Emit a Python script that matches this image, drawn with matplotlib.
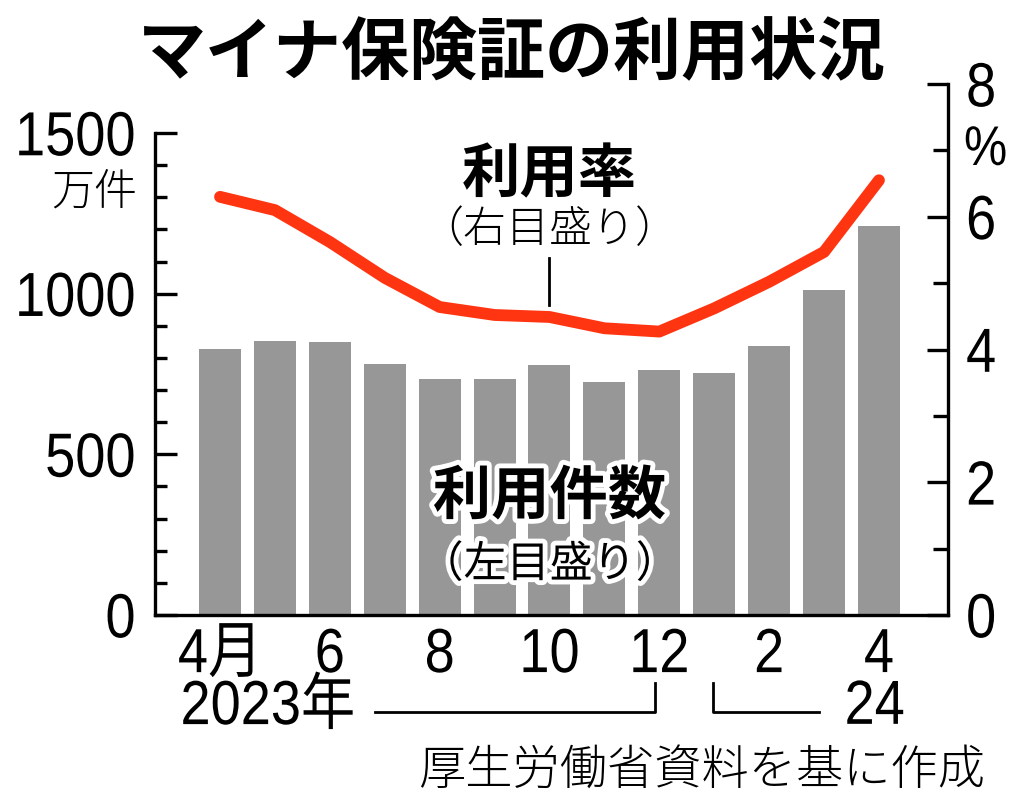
import numpy as np
import matplotlib
matplotlib.use("Agg")
import matplotlib.pyplot as plt
import matplotlib.patheffects as pe
from matplotlib.lines import Line2D
from matplotlib.ticker import FixedLocator
from matplotlib.transforms import Affine2D
from matplotlib import font_manager

# data (Apr 2023 .. Apr 2024)
months = ["4月", "5", "6", "7", "8", "9", "10", "11", "12", "1", "2", "3", "4"]
counts = [828, 853, 850, 781, 735, 735, 778, 725, 763, 753, 837, 1012, 1211]  # 万件
rate = [6.30, 6.10, 5.62, 5.08, 4.64, 4.52, 4.49, 4.32, 4.27, 4.62, 5.02, 5.47, 6.55]  # %
tick_pos = [0, 2, 4, 6, 8, 10, 12]
tick_labels = ["4月", "6", "8", "10", "12", "2", "4"]
left_ticks = [0, 500, 1000, 1500]
right_ticks = [0, 2, 4, 6, 8]

installed = {f.name for f in font_manager.fontManager.ttflist}
narrow = "Liberation Sans Narrow" if "Liberation Sans Narrow" in installed else "Liberation Sans"
NUM = [narrow, "Noto Sans CJK JP"]
JP = ["Noto Sans CJK JP", "DejaVu Sans"]
# the reference digits are tall and narrow: use a smaller size, stretched upward
SY = 1.0 if narrow == "Liberation Sans Narrow" else 1.15
FS = 45 if SY == 1.0 else 39

plt.rcParams["font.family"] = JP


class Tall(pe.AbstractPathEffect):
    # stretch glyphs vertically around the middle of their ink
    def __init__(self, sy):
        super().__init__()
        self.sy = sy

    def draw_path(self, renderer, gc, tpath, affine, rgbFace=None):
        v = tpath.vertices
        mid = 0.5 * (v[:, 1].min() + v[:, 1].max()) if len(v) else 0
        t = Affine2D().translate(0, -mid).scale(1, self.sy).translate(0, mid)
        renderer.draw_path(gc, tpath, t + affine, rgbFace)


TALL = [Tall(SY)]
BAR = "#979797"
RED = "#ff3512"
LW = 2.4

fig = plt.figure(figsize=(10.24, 8.07), dpi=100)
ax = fig.add_axes([155 / 1024, 1 - 615 / 807, (948 - 155) / 1024, (615 - 84) / 807])
ax2 = ax.twinx()

x = np.arange(len(counts))
ax.bar(x, counts, width=0.765, color=BAR, zorder=1)
ax2.plot(x, rate, color=RED, lw=8.5, solid_capstyle="round", solid_joinstyle="round", zorder=3)

ax.set_xlim(-1.184, 13.257)
ax.set_ylim(0, 1500 * 531 / 482)
ax2.set_ylim(0, 8)

# spines
for a in (ax, ax2):
    a.spines["top"].set_visible(False)
    for s in ("left", "right", "bottom"):
        a.spines[s].set_linewidth(LW)
ax.spines["left"].set_bounds(0, 1500)
ax.spines["right"].set_visible(False)
ax2.spines["left"].set_visible(False)
ax2.spines["bottom"].set_visible(False)

# left axis ticks
ax.set_yticks(left_ticks)
ax.yaxis.set_minor_locator(FixedLocator([v for v in range(100, 1500, 100) if v % 500]))
ax.tick_params(axis="y", which="major", direction="in", length=16, width=LW, pad=14)
ax.tick_params(axis="y", which="minor", direction="in", length=8.5, width=LW)
for lab in ax.get_yticklabels():
    lab.set_fontfamily(NUM)
    lab.set_fontsize(FS)
    lab.set_path_effects(TALL)

# right axis ticks
ax2.set_yticks(right_ticks)
ax2.yaxis.set_minor_locator(FixedLocator([1, 3, 5, 7]))
ax2.tick_params(axis="y", which="major", direction="in", length=15, width=LW, pad=13)
ax2.tick_params(axis="y", which="minor", direction="in", length=11, width=LW)
for lab in ax2.get_yticklabels():
    lab.set_fontfamily(NUM)
    lab.set_fontsize(FS)
    lab.set_path_effects(TALL)

# x axis
ax.set_xticks(tick_pos)
ax.set_xticklabels(tick_labels, fontfamily=NUM, fontsize=FS)
ax.tick_params(axis="x", length=0, pad=11)
for lab in ax.get_xticklabels():
    lab.set_path_effects(TALL)

# unit labels
fig.text(137 / 1024, 1 - 192 / 807, "万件", ha="right", va="center", fontsize=31,
         family=JP, weight="light")
fig.text(964 / 1024, 1 - 150 / 807, "%", ha="left", va="center", fontsize=35,
         family=NUM, path_effects=TALL)

# title
fig.text(0.5, 1 - 55 / 807, "マイナ保険証の利用状況", ha="center", va="center",
         fontsize=49, weight="bold", family=JP)

# series labels
tr = ax.get_xaxis_transform()
ax2.text(6, 440 / 531, "利用率", transform=tr, ha="center",
         va="center", fontsize=42, weight="bold", family=JP)
ax2.text(6, 385 / 531, "（右目盛り）", transform=tr, ha="center",
         va="center", fontsize=31, family=JP, weight="light")
ax2.plot([6, 6], [357 / 531, 310 / 531], transform=tr,
         color="black", lw=2, clip_on=False, zorder=4)

halo = [pe.withStroke(linewidth=7, foreground="white")]
ax.text(6, 118 / 531, "利用件数", transform=tr, ha="center", va="center",
        fontsize=42, weight="bold", family=JP, path_effects=halo, zorder=5)
ax.text(6, 50 / 531, "（左目盛り）", transform=tr, ha="center", va="center",
        fontsize=31, family=JP, path_effects=halo, zorder=5)

# year brackets under the axis
y_h = -97 / 531
y_t = -68 / 531
ax.text(-0.72, -92 / 531, "2023年", transform=tr, ha="left", va="center",
        fontsize=FS, family=NUM, path_effects=TALL)
ax.add_line(Line2D([2.83, 7.92, 7.92], [y_h, y_h, y_t], transform=tr, color="black",
                   lw=2, clip_on=False))
ax.add_line(Line2D([8.97, 8.97, 10.9], [y_t, y_h, y_h], transform=tr, color="black",
                   lw=2, clip_on=False))
ax.text(12.47, -92 / 531, "24", transform=tr, ha="right", va="center",
        fontsize=FS, family=NUM, path_effects=TALL)

# source
fig.text(985 / 1024, 1 - 770 / 807, "厚生労働省資料を基に作成", ha="right", va="center",
         fontsize=34, family=JP, weight="light")

fig.savefig("out.png", dpi=100)
